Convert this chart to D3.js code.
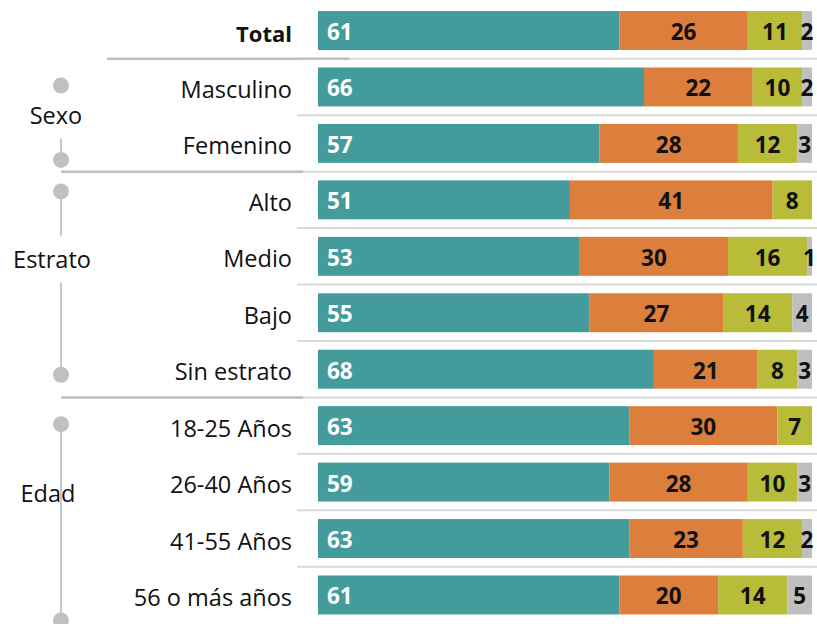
<!DOCTYPE html>
<html lang="es">

<head>
	<meta charset="utf-8">
	<title>Barras apiladas por grupo</title>
	<script src="https://d3js.org/d3.v7.min.js"></script>
	<style>
		body {
			margin: 0;
			background: #fff;
			font-family: "Open Sans", sans-serif;
		}
	</style>
</head>

<body>
	<script>
		// categorias y valores (porcentajes)
		var categories = ["Total", "Masculino", "Femenino", "Alto", "Medio", "Bajo", "Sin estrato",
			"18-25 Años", "26-40 Años", "41-55 Años", "56 o más años"];
		var serie1 = [61, 66, 57, 51, 53, 55, 68, 63, 59, 63, 61];
		var serie2 = [26, 22, 28, 41, 30, 27, 21, 30, 28, 23, 20];
		var serie3 = [11, 10, 12, 8, 16, 14, 8, 7, 10, 12, 14];
		var serie4 = [2, 2, 3, 0, 1, 4, 3, 0, 3, 2, 5];

		// grupos: nombre, primera y ultima categoria
		var groupNames = ["Sexo", "Estrato", "Edad"];
		var groupFirst = ["Masculino", "Alto", "18-25 Años"];
		var groupLast = ["Femenino", "Sin estrato", "56 o más años"];

		// ajustes de dibujo del corchete (posicion del texto en filas, puntos)
		var groupLayout = [
			{ labelAt: 0.5, topOff: 18, botOff: 36, gap: 23, lx: 56 },
			{ labelAt: 1.05, topOff: 11, botOff: 25, gap: 23, lx: 52 },
			{ labelAt: 1.2, topOff: 18, botOff: 45, gap: 0, lx: 48 }
		];

		var colors = ["#439c9b", "#dc7e3c", "#b8bc39", "#bfbfbf"];
		var textColors = ["#fff", "#111", "#111", "#111"];

		var w = 817, h = 624;

		var svg = d3.select("body").append("svg")
			.attr("width", w)
			.attr("height", h);

		var y = d3.scaleBand()
			.domain(categories)
			.range([2.3, 623.2])
			.paddingInner(0.31)
			.paddingOuter(0.155);

		var x = d3.scaleLinear().domain([0, 100]).range([318, 812]);

		var series = [serie1, serie2, serie3, serie4];
		var rows = categories.map(function (c, i) {
			var acc = 0;
			return series.map(function (s, k) {
				var seg = { cat: c, k: k, v: s[i], x0: acc, x1: acc + s[i] };
				acc += s[i];
				return seg;
			});
		});

		// lineas separadoras entre filas
		var step = y.step();
		var bw = y.bandwidth();
		var sepY = function (c) { return y(c) + bw + (step - bw) / 2; };

		svg.selectAll("line.sep")
			.data(categories.slice(0, -1))
			.enter()
			.append("line")
			.attr("class", "sep")
			.attr("x1", 297)
			.attr("x2", w)
			.attr("y1", sepY)
			.attr("y2", sepY)
			.style("stroke", "#d9d9d9")
			.style("stroke-width", 2);

		// separadores de grupo (mas oscuros)
		var groupSeps = [
			{ c: "Total", x1: 107, x2: 349 },
			{ c: "Femenino", x1: 61, x2: 303 },
			{ c: "Sin estrato", x1: 61, x2: 303 }
		];
		svg.selectAll("line.gsep")
			.data(groupSeps)
			.enter()
			.append("line")
			.attr("class", "gsep")
			.attr("x1", function (d) { return d.x1; })
			.attr("x2", function (d) { return d.x2; })
			.attr("y1", function (d) { return sepY(d.c); })
			.attr("y2", function (d) { return sepY(d.c); })
			.style("stroke", "#bfbfbf")
			.style("stroke-width", 2.5);

		// barras
		var rowG = svg.selectAll("g.row")
			.data(rows)
			.enter()
			.append("g")
			.attr("class", "row");

		rowG.selectAll("rect")
			.data(function (d) { return d.filter(function (s) { return s.v > 0; }); })
			.enter()
			.append("rect")
			.attr("x", function (d) { return x(d.x0); })
			.attr("width", function (d) { return x(d.x1) - x(d.x0); })
			.attr("y", function (d) { return y(d.cat); })
			.attr("height", bw)
			.attr("fill", function (d) { return colors[d.k]; });

		rowG.selectAll("text")
			.data(function (d) { return d.filter(function (s) { return s.v > 0; }); })
			.enter()
			.append("text")
			.attr("x", function (d) {
				if (d.k === 0) return x(d.x0) + 9;
				return (x(d.x0) + x(d.x1)) / 2;
			})
			.attr("y", function (d) { return y(d.cat) + bw / 2 + 9.5; })
			.attr("text-anchor", function (d) { return d.k === 0 ? "start" : "middle"; })
			.style("font-size", "22.5px")
			.style("font-weight", "bold")
			.style("fill", function (d) { return textColors[d.k]; })
			.text(function (d) { return d.v; });

		// etiquetas de categoria
		svg.selectAll("text.cat")
			.data(categories)
			.enter()
			.append("text")
			.attr("class", "cat")
			.attr("x", 292)
			.attr("y", function (d) { return y(d) + bw / 2 + 11; })
			.attr("text-anchor", "end")
			.style("font-size", function (d) { return d === "Total" ? "22px" : "23.5px"; })
			.style("font-weight", function (d) { return d === "Total" ? "bold" : "normal"; })
			.style("fill", "#111")
			.text(function (d) { return d; });

		// corchetes de grupo con puntos
		var gx = 61;
		groupNames.forEach(function (name, i) {
			var L = groupLayout[i];
			var top = y(groupFirst[i]) + L.topOff;
			var bot = y(groupLast[i]) + L.botOff;
			var mid = y(groupFirst[i]) + bw / 2 + step * L.labelAt;
			svg.append("line")
				.attr("x1", gx).attr("x2", gx)
				.attr("y1", top).attr("y2", mid - L.gap)
				.style("stroke", "#c8c8c8").style("stroke-width", 2);
			svg.append("line")
				.attr("x1", gx).attr("x2", gx)
				.attr("y1", mid + L.gap).attr("y2", bot)
				.style("stroke", "#c8c8c8").style("stroke-width", 2);
			[top, bot].forEach(function (cy) {
				svg.append("circle")
					.attr("cx", gx).attr("cy", cy).attr("r", 8)
					.attr("fill", "#c0c0c0");
			});
			svg.append("text")
				.attr("x", L.lx)
				.attr("y", mid + 8.5)
				.attr("text-anchor", "middle")
				.style("font-size", "23.5px")
				.style("fill", "#111")
				.text(name);
		});
	</script>
</body>

</html>
